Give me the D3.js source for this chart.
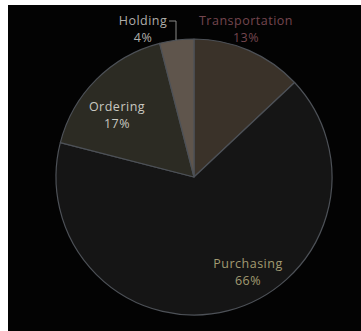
<!DOCTYPE html>
<html>
<head>
<meta charset="utf-8">
<script src="https://cdn.jsdelivr.net/npm/d3@7"></script>
<style>
  html, body { margin: 0; padding: 0; background: #ffffff; }
  svg { display: block; }
</style>
</head>
<body>
<svg id="chart" width="361" height="331"></svg>
<script>
// Cost breakdown shares (percent), clockwise from 12 o'clock
const categories = ["Transportation", "Purchasing", "Ordering", "Holding"];
const shares = [13, 66, 17, 4];

const sliceColors = {
  Transportation: "#3a3229",
  Purchasing: "#151515",
  Ordering: "#2c2b23",
  Holding: "#5f554c"
};
const labelColors = {
  Transportation: "#74464f",
  Purchasing: "#a29b72",
  Ordering: "#c9c8c0",
  Holding: "#b0aeaa"
};

const W = 361, H = 331;
const svg = d3.select("#chart");

// dark plot panel
svg.append("rect")
  .attr("x", 8).attr("y", 5)
  .attr("width", W - 8).attr("height", H - 5)
  .attr("fill", "#030303");

const cx = 194, cy = 177, R = 138;

const data = categories.map((c, i) => ({ name: c, value: shares[i] }));
const pie = d3.pie().value(d => d.value).sort(null)
  .startAngle(0).endAngle(2 * Math.PI);
const arcs = pie(data);
const arc = d3.arc().innerRadius(0).outerRadius(R);

const g = svg.append("g").attr("transform", `translate(${cx},${cy})`);

g.selectAll("path.slice")
  .data(arcs)
  .join("path")
  .attr("class", "slice")
  .attr("d", arc)
  .attr("fill", d => sliceColors[d.data.name])
  .attr("stroke", "#4d5157")
  .attr("stroke-width", 1.2)
  .attr("stroke-linejoin", "round");

// label placement (text centre of the first line)
const labelLayout = {
  Transportation: { x: 246, y: 20 },
  Holding: { x: 143, y: 20 },
  Ordering: { x: 117, y: 106 },
  Purchasing: { x: 248, y: 263 }
};

const labels = svg.append("g")
  .attr("font-family", "'Open Sans', sans-serif")
  .attr("font-size", 12.5)
  .attr("letter-spacing", 0.5)
  .attr("text-anchor", "middle");

arcs.forEach(d => {
  const L = labelLayout[d.data.name];
  const t = labels.append("text")
    .attr("x", L.x).attr("y", L.y)
    .attr("fill", labelColors[d.data.name])
    .attr("dominant-baseline", "central");
  t.append("tspan").attr("x", L.x).attr("dy", 0).text(d.data.name);
  t.append("tspan").attr("x", L.x).attr("dy", 17).text(d.data.value + "%");
});

// leader from the Holding label down to its slice
const hx = 176;
const hy = cy - Math.sqrt(R * R - (hx - cx) * (hx - cx));
svg.append("path")
  .attr("d", `M169,21 H${hx} V${hy}`)
  .attr("fill", "none")
  .attr("stroke", "#8a8a88")
  .attr("stroke-width", 1);
</script>
</body>
</html>
